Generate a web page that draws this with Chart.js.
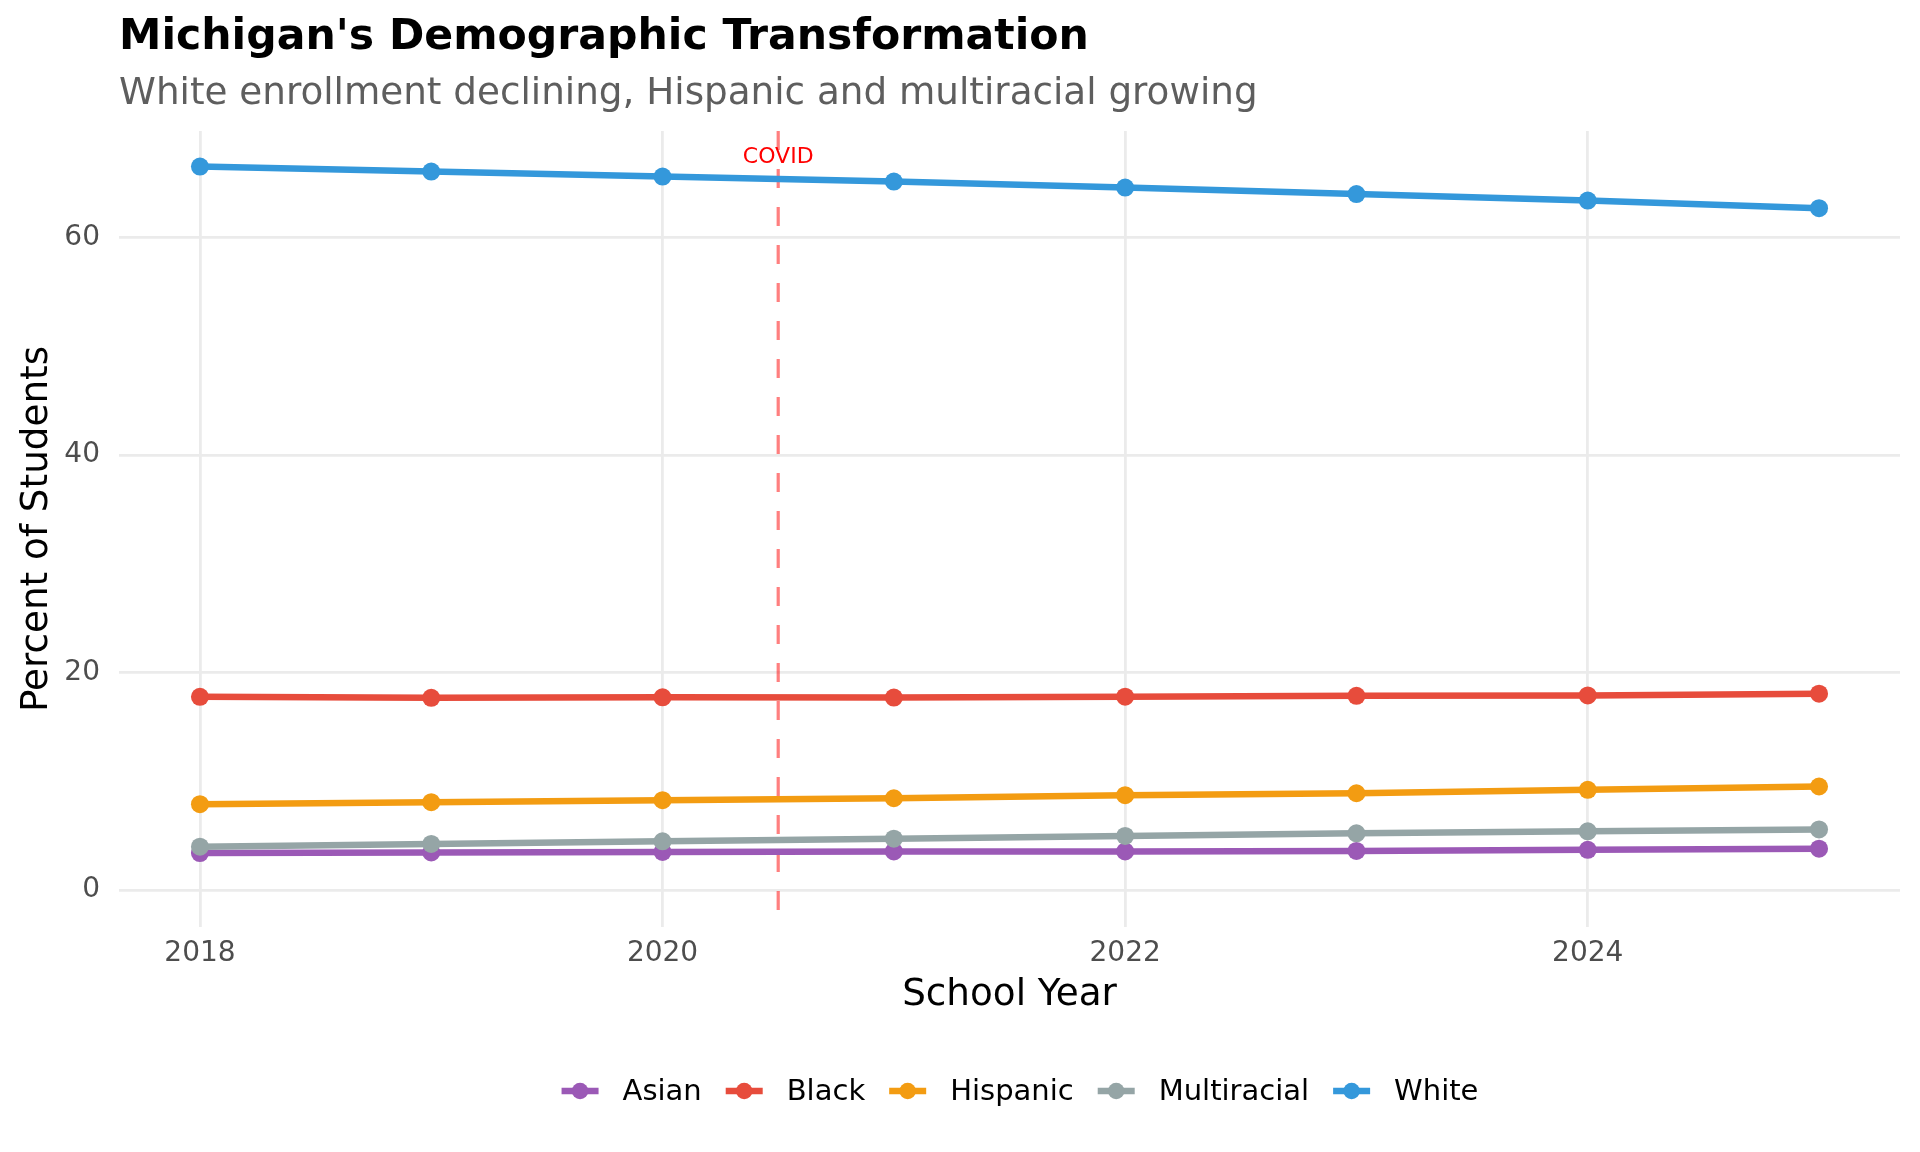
<!DOCTYPE html>
<html>
<head>
<meta charset="utf-8">
<script src="https://cdn.jsdelivr.net/npm/chart.js@4.4.0/dist/chart.umd.min.js"></script>
<style>
  html, body { margin: 0; padding: 0; background: #fff; }
  #wrap { width: 1920px; height: 1152px; position: relative; }
</style>
</head>
<body>
<div id="wrap"><canvas id="demoChart"></canvas></div>
<script>
// School years on the x axis
const years = [2018, 2019, 2020, 2021, 2022, 2023, 2024, 2025];

// Percent of students by group
const asian       = [3.40, 3.45, 3.50, 3.55, 3.55, 3.60, 3.70, 3.80];
const black       = [17.77, 17.68, 17.72, 17.70, 17.78, 17.86, 17.90, 18.06];
const hispanic    = [7.89, 8.08, 8.26, 8.44, 8.72, 8.90, 9.22, 9.52];
const multiracial = [3.99, 4.24, 4.48, 4.72, 4.97, 5.21, 5.40, 5.57];
const white       = [66.53, 66.07, 65.61, 65.15, 64.60, 64.00, 63.40, 62.70];

const groupNames  = ['Asian', 'Black', 'Hispanic', 'Multiracial', 'White'];
const groupValues = [asian, black, hispanic, multiracial, white];
const groupColors = ['#9B59B6', '#E74C3C', '#F39C12', '#95A5A6', '#3498DB'];

const xTicks = [2018, 2020, 2022, 2024];
const yTicks = [0, 20, 40, 60];

const covidYear = 2020.5;
const covidLabelY = 67.6;

const FONT = "'DejaVu Sans', sans-serif";

const datasets = groupNames.map((name, i) => ({
    label: name,
    data: years.map((yr, j) => ({ x: yr, y: groupValues[i][j] })),
    borderColor: groupColors[i],
    backgroundColor: groupColors[i],
    borderWidth: 6.5,
    pointRadius: 9,
    pointHoverRadius: 9,
    pointBorderWidth: 0,
    pointBackgroundColor: groupColors[i],
    tension: 0,
    order: groupNames.length - i
}));

// vertical COVID marker, drawn under the lines
const covidLine = {
    id: 'covidLine',
    beforeDatasetsDraw(chart) {
        const { ctx, chartArea, scales } = chart;
        const x = scales.x.getPixelForValue(covidYear);
        ctx.save();
        ctx.strokeStyle = 'rgba(255, 0, 0, 0.5)';
        ctx.lineWidth = 3.2;
        ctx.setLineDash([19, 19]);
        ctx.beginPath();
        ctx.moveTo(x, chartArea.top);
        ctx.lineTo(x, chartArea.bottom);
        ctx.stroke();
        ctx.restore();
    }
};

// titles, axis titles, covid label and legend
const decorations = {
    id: 'decorations',
    afterDraw(chart) {
        const { ctx, chartArea, scales } = chart;
        ctx.save();

        // title + subtitle
        ctx.textAlign = 'left';
        ctx.textBaseline = 'alphabetic';
        ctx.fillStyle = '#000';
        ctx.font = `bold 42.6px ${FONT}`;
        ctx.fillText("Michigan's Demographic Transformation", chartArea.left, 49);
        ctx.fillStyle = '#5e5e5e';
        ctx.font = `37.3px ${FONT}`;
        ctx.fillText('White enrollment declining, Hispanic and multiracial growing', chartArea.left, 104);

        // COVID label
        const cx = scales.x.getPixelForValue(covidYear);
        const cy = scales.y.getPixelForValue(covidLabelY);
        ctx.fillStyle = '#FF0000';
        ctx.font = `22px ${FONT}`;
        ctx.textAlign = 'center';
        ctx.fillText('COVID', cx, cy + 8);

        // axis titles
        ctx.fillStyle = '#000';
        ctx.font = `37.3px ${FONT}`;
        ctx.fillText('School Year', (chartArea.left + chartArea.right) / 2, 1005);
        ctx.save();
        ctx.translate(47, (chartArea.top + chartArea.bottom) / 2);
        ctx.rotate(-Math.PI / 2);
        ctx.fillText('Percent of Students', 0, 0);
        ctx.restore();

        // legend
        ctx.font = `29px ${FONT}`;
        const keyW = 37, gap = 24, ly = 1091;
        const widths = groupNames.map(n => ctx.measureText(n).width);
        const total = widths.reduce((s, w) => s + keyW + gap + w, 0) + gap * (groupNames.length - 1);
        let lx = 1020 - total / 2;
        ctx.textAlign = 'left';
        ctx.textBaseline = 'middle';
        groupNames.forEach((name, i) => {
            ctx.strokeStyle = groupColors[i];
            ctx.lineWidth = 6.5;
            ctx.beginPath();
            ctx.moveTo(lx, ly);
            ctx.lineTo(lx + keyW, ly);
            ctx.stroke();
            ctx.fillStyle = groupColors[i];
            ctx.beginPath();
            ctx.arc(lx + keyW / 2, ly, 8.3, 0, Math.PI * 2);
            ctx.fill();
            ctx.fillStyle = '#000';
            ctx.fillText(name, lx + keyW + gap, ly + 1);
            lx += keyW + gap + widths[i] + gap;
        });

        ctx.restore();
    }
};

new Chart(document.getElementById('demoChart').getContext('2d'), {
    type: 'line',
    data: { datasets },
    options: {
        responsive: true,
        maintainAspectRatio: false,
        devicePixelRatio: 1,
        animation: false,
        layout: { padding: { left: 0, right: 20, top: 131, bottom: 165 } },
        plugins: {
            legend: { display: false },
            title: { display: false },
            tooltip: { enabled: false }
        },
        scales: {
            x: {
                type: 'linear',
                min: 2017.65,
                max: 2025.35,
                afterBuildTicks: (s) => { s.ticks = xTicks.map(v => ({ value: v })); },
                afterFit: (s) => { s.height = 60; },
                grid: { color: '#EBEBEB', lineWidth: 2.8, drawTicks: false },
                border: { display: false },
                ticks: {
                    padding: 10,
                    color: '#4D4D4D',
                    font: { family: FONT, size: 28 },
                    maxRotation: 0,
                    callback: (v) => String(v)
                }
            },
            y: {
                min: -3.4,
                max: 69.8,
                afterBuildTicks: (s) => { s.ticks = yTicks.map(v => ({ value: v })); },
                afterFit: (s) => { s.width = 119; },
                grid: { color: '#EBEBEB', lineWidth: 2.8, drawTicks: false },
                border: { display: false },
                ticks: {
                    padding: 19,
                    color: '#4D4D4D',
                    font: { family: FONT, size: 28 },
                    callback: (v) => String(v)
                }
            }
        }
    },
    plugins: [covidLine, decorations]
});
</script>
</body>
</html>
